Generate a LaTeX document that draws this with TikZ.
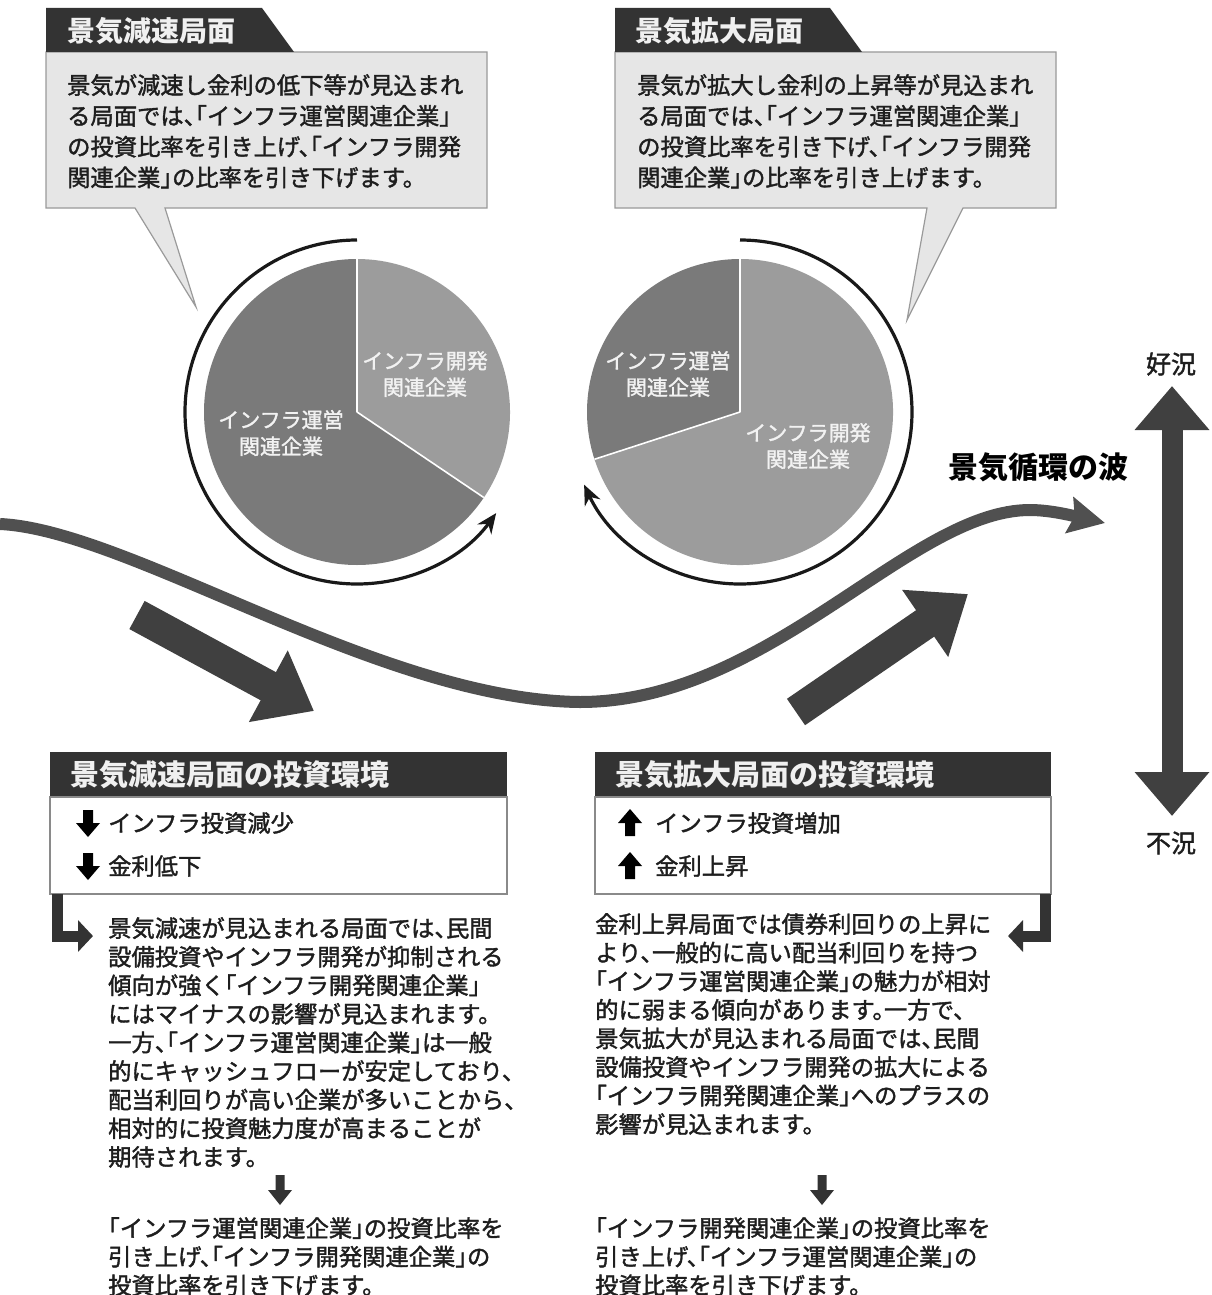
\documentclass[tikz,border=0pt]{standalone}
\usepackage{fontspec}
\setmainfont{Noto Sans CJK JP}[RawFeature=+halt]
\newfontfamily\jpbody{Noto Sans CJK JP}[RawFeature=+halt, FakeBold=1.6]
\usetikzlibrary{arrows.meta}
\definecolor{tabdark}{HTML}{333333}
\definecolor{tabtext}{HTML}{F0F0F0}
\definecolor{callfill}{HTML}{E6E6E6}
\definecolor{callline}{HTML}{9A9A9A}
\definecolor{piedark}{HTML}{7A7A7A}
\definecolor{pielight}{HTML}{9C9C9C}
\definecolor{wavecol}{HTML}{505050}
\definecolor{arrcol}{HTML}{404040}
\definecolor{txtcol}{HTML}{1E1E1E}
\definecolor{boxline}{HTML}{8A8A8A}
\begin{document}
\begin{tikzpicture}[x=1pt,y=1pt,
  body/.style={inner sep=0pt, align=left, text=txtcol, font=\jpbody\fontsize{23.3}{28.6}\selectfont},
  calltext/.style={inner sep=0pt, align=left, text=txtcol, font=\jpbody\fontsize{23.3}{30.8}\selectfont},
  tabtitle/.style={inner sep=0pt, anchor=west, text=tabtext, font=\bfseries\fontsize{28}{30}\selectfont},
  boxtitle/.style={inner sep=0pt, anchor=west, text=tabtext, font=\bfseries\fontsize{29}{30}\selectfont},
  pietext/.style={inner sep=0pt, align=center, text=white!95!black, font=\jpbody\fontsize{21}{26.5}\selectfont},
  callout/.style={fill=callfill, draw=callline, line width=1.2pt, line join=miter},
  ringarrow/.style={draw=black!90, line width=3.2pt, -{Stealth[length=20pt,width=17pt]}},
  itemarrow/.style={fill=black}
]
\useasboundingbox (0,0) rectangle (1211,-1295);
\fill[white] (0,0) rectangle (1211,-1295);

% ---------- top-left callout ----------
\path[callout] (46,-52) -- (487,-52) -- (487,-208) -- (165,-208) -- (196,-307)
  coordinate (lcTip) -- (135,-208) -- (46,-208) -- cycle;
\fill[tabdark] (46,-8) -- (262,-8) -- (294,-52) -- (46,-52) -- cycle;
\node[tabtitle] (lTab) at (67,-31) {景気減速局面};
\node[calltext, anchor=north west] (lCall) at (67,-74)
 {景気が減速し金利の低下等が見込まれ\\る局面では、「インフラ運営関連企業」\\の投資比率を引き上げ、「インフラ開発\\関連企業」の比率を引き下げます。};

% ---------- top-right callout ----------
\path[callout] (615,-52) -- (1056,-52) -- (1056,-208) -- (963,-208) -- (907,-320)
  coordinate (rcTip) -- (927,-208) -- (615,-208) -- cycle;
\fill[tabdark] (615,-8) -- (830,-8) -- (862,-52) -- (615,-52) -- cycle;
\node[tabtitle] (rTab) at (635,-31) {景気拡大局面};
\node[calltext, anchor=north west] (rCall) at (637,-74)
 {景気が拡大し金利の上昇等が見込まれ\\る局面では、「インフラ運営関連企業」\\の投資比率を引き下げ、「インフラ開発\\関連企業」の比率を引き上げます。};

% ---------- left pie ----------
\coordinate (lc) at (357,-412);
\fill[piedark] (lc) -- ++(90:153) arc[start angle=90, end angle=326, radius=153] -- cycle;
\fill[pielight] (lc) -- ++(-34:153) arc[start angle=-34, end angle=90, radius=153] -- cycle;
\draw[white, line width=1.6pt] (lc) -- ++(90:153) (lc) -- ++(-34:153);
\node[pietext] (lDev) at (425,-374) {インフラ開発\\関連企業};
\node[pietext] (lOps) at (281,-433) {インフラ運営\\関連企業};
\draw[ringarrow] (lc) ++(90:172) arc[start angle=90, end angle=324, radius=172];

% ---------- right pie ----------
\coordinate (rc) at (740,-412);
\fill[pielight] (rc) -- ++(198:153) arc[start angle=198, end angle=450, radius=153] -- cycle;
\fill[piedark] (rc) -- ++(90:153) arc[start angle=90, end angle=198, radius=153] -- cycle;
\draw[white, line width=1.6pt] (rc) -- ++(90:153) (rc) -- ++(198:153);
\node[pietext] (rOps) at (668,-374) {インフラ運営\\関連企業};
\node[pietext] (rDev) at (808,-446) {インフラ開発\\関連企業};
\draw[ringarrow] (rc) ++(90:172) arc[start angle=90, end angle=-155, radius=172];

% ---------- wave ----------
\coordinate (w0) at (0,-524);
\coordinate (wMin) at (580,-702);
\coordinate (wCrest) at (1030,-510);
\coordinate (wTip) at (1105,-523);
\draw[wavecol, line width=12pt, -{Stealth[length=36pt,width=36pt,inset=5pt]}]
  (w0) .. controls (130,-530) and (380,-700) .. (wMin)
       .. controls (770,-702) and (910,-510) .. (wCrest)
       .. controls (1052,-510) and (1078,-517) .. (wTip);
\node[inner sep=0pt, text=black, font=\bfseries\fontsize{30}{32}\selectfont] (waveLbl) at (1038,-467) {景気循環の波};

% ---------- big diagonal arrows ----------
\coordinate (dA) at (137,-615);
\coordinate (dB) at (314,-711);
\draw[draw=arrcol, line width=32pt, -{Triangle[length=52pt,width=78pt]}] (dA) -- (dB);
\coordinate (uA) at (796,-712);
\coordinate (uB) at (968,-594);
\draw[draw=arrcol, line width=32pt, -{Triangle[length=52pt,width=78pt]}] (uA) -- (uB);

% ---------- vertical double arrow ----------
\coordinate (vTop) at (1172,-386);
\coordinate (vBot) at (1172,-816);
\draw[draw=arrcol, line width=21pt, {Triangle[length=44pt,width=72pt]}-{Triangle[length=44pt,width=72pt]}] (vTop) -- (vBot);
\node[inner sep=0pt, text=txtcol, font=\jpbody\fontsize{25}{27}\selectfont] (good) at (1171,-364) {好況};
\node[inner sep=0pt, text=txtcol, font=\jpbody\fontsize{25}{27}\selectfont] (bad) at (1171,-843) {不況};

% ---------- bottom-left box ----------
\fill[tabdark] (50,-752) rectangle (507,-797);
\draw[boxline, line width=1.2pt, fill=white] (50,-797) rectangle (507,-894);
\node[boxtitle] (lBoxT) at (70,-775) {景気減速局面の投資環境};
\fill[itemarrow, shift={(88,-823)}] (-5,13) -- (5,13) -- (5,0) -- (12,0) -- (0,-14) -- (-12,0) -- (-5,0) -- cycle;
\fill[itemarrow, shift={(88,-866)}] (-5,13) -- (5,13) -- (5,0) -- (12,0) -- (0,-14) -- (-12,0) -- (-5,0) -- cycle;
\node[body, anchor=west] (lI1) at (108,-823) {インフラ投資減少};
\node[body, anchor=west] (lI2) at (108,-866) {金利低下};
\coordinate (lE0) at (57,-894);
\coordinate (lE1) at (93,-936);
\draw[tabdark, line width=11pt, -{Triangle[length=15pt,width=31pt]}] (lE0) |- (lE1);

\node[body, anchor=north west] (lPara) at (108,-917)
 {景気減速が見込まれる局面では、民間\\設備投資やインフラ開発が抑制される\\傾向が強く「インフラ開発関連企業」\\にはマイナスの影響が見込まれます。\\一方、「インフラ運営関連企業」は一般\\的にキャッシュフローが安定しており、\\配当利回りが高い企業が多いことから、\\相対的に投資魅力度が高まることが\\期待されます。};
\fill[tabdark, shift={(280,-1190)}] (-4.5,15) -- (4.5,15) -- (4.5,0) -- (12,0) -- (0,-15) -- (-12,0) -- (-4.5,0) -- cycle;
\node[body, anchor=north west] (lRes) at (108,-1217)
 {「インフラ運営関連企業」の投資比率を\\引き上げ、「インフラ開発関連企業」の\\投資比率を引き下げます。};

% ---------- bottom-right box ----------
\fill[tabdark] (595,-752) rectangle (1051,-797);
\draw[boxline, line width=1.2pt, fill=white] (595,-797) rectangle (1051,-894);
\node[boxtitle] (rBoxT) at (615,-775) {景気拡大局面の投資環境};
\fill[itemarrow, shift={(630,-823)}] (-5,-13) -- (5,-13) -- (5,0) -- (12,0) -- (0,14) -- (-12,0) -- (-5,0) -- cycle;
\fill[itemarrow, shift={(630,-866)}] (-5,-13) -- (5,-13) -- (5,0) -- (12,0) -- (0,14) -- (-12,0) -- (-5,0) -- cycle;
\node[body, anchor=west] (rI1) at (655,-823) {インフラ投資増加};
\node[body, anchor=west] (rI2) at (655,-866) {金利上昇};
\coordinate (rE0) at (1045,-894);
\coordinate (rE1) at (1008,-936);
\draw[tabdark, line width=11pt, -{Triangle[length=15pt,width=31pt]}] (rE0) |- (rE1);

\node[body, anchor=north west] (rPara) at (595,-913)
 {金利上昇局面では債券利回りの上昇に\\より、一般的に高い配当利回りを持つ\\「インフラ運営関連企業」の魅力が相対\\的に弱まる傾向があります。一方で、\\景気拡大が見込まれる局面では、民間\\設備投資やインフラ開発の拡大による\\「インフラ開発関連企業」へのプラスの\\影響が見込まれます。};
\fill[tabdark, shift={(822,-1190)}] (-4.5,15) -- (4.5,15) -- (4.5,0) -- (12,0) -- (0,-15) -- (-12,0) -- (-4.5,0) -- cycle;
\node[body, anchor=north west] (rRes) at (595,-1217)
 {「インフラ開発関連企業」の投資比率を\\引き上げ、「インフラ運営関連企業」の\\投資比率を引き下げます。};
\end{tikzpicture}
\end{document}
